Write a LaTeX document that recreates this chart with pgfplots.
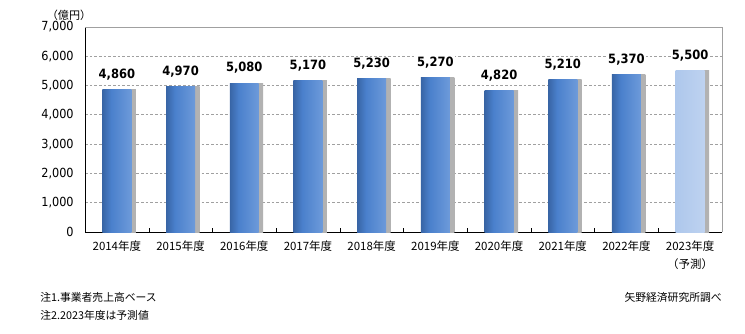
\documentclass[border=0pt]{standalone}
\usepackage{pgfplots}
\pgfplotsset{compat=1.18}
\usepackage{fontspec}
\setmainfont{Noto Sans CJK JP}
\newfontfamily\numfont{DejaVu Sans Condensed}
\definecolor{barA}{HTML}{1A3764}
\definecolor{barB}{HTML}{4A80CC}
\definecolor{barC}{HTML}{86ADE4}
\definecolor{fcA}{HTML}{A6C2EA}
\definecolor{fcB}{HTML}{C6D8F2}
\definecolor{gridc}{HTML}{A0A0A0}
\pgfdeclarehorizontalshading{barshade}{100bp}{color(0bp)=(barA); color(40bp)=(barB); color(100bp)=(barC)}
\pgfdeclarehorizontalshading{fcshade}{100bp}{color(0bp)=(fcA); color(100bp)=(fcB)}
\pgfdeclarehorizontalshading{shadowshade}{100bp}{color(0bp)=(black!30); color(84bp)=(black!30); color(92bp)=(black!14); color(100bp)=(white)}
\pgfplotsset{
  shad/.style={ybar, bar width=0.455, bar shift=0.07, draw=none, shading=shadowshade, forget plot},
  mainbar/.style={ybar, bar width=0.455, bar shift=0, draw=none, shading=barshade,
    nodes near coords={\pgfmathprintnumber[fixed,1000 sep={,}]{\pgfplotspointmeta}},
    nodes near coords style={font=\numfont\bfseries\fontsize{9.6pt}{11pt}\selectfont, anchor=south, fill=white, inner sep=1pt, yshift=6pt}},
}
\begin{document}
\begin{tikzpicture}[x=0.75pt,y=0.75pt]
\useasboundingbox (0,0) rectangle (745,333);
\begin{axis}[
  at={(85*0.75pt,101*0.75pt)}, anchor=south west,
  scale only axis, width=637*0.75pt, height=205*0.75pt,
  xmin=-0.5, xmax=9.5, ymin=0, ymax=7000,
  axis x line*=bottom, axis y line*=left,
  axis line style={-, black},
  xtick={0,...,9},
  xticklabels={2014年度,2015年度,2016年度,2017年度,2018年度,2019年度,2020年度,2021年度,2022年度,{2023年度\\（予測）}},
  xticklabel style={font=\fontsize{8.6pt}{13.5pt}\selectfont, align=center, yshift=-3pt},
  minor xtick={0.5,1.5,...,8.5},
  major x tick style={draw=none},
  minor x tick style={black},
  minor tick length=3pt,
  tick align=inside,
  ytick={0,1000,...,7000},
  major y tick style={draw=none},
  yticklabel style={font=\numfont\fontsize{9.4pt}{11pt}\selectfont, xshift=-5pt},
  /pgf/number format/assume math mode=true,
  yticklabel={\pgfmathprintnumber[fixed,1000 sep={,}]{\tick}},
  ymajorgrids, grid style={gridc, dash pattern=on 2pt off 1.5pt, line width=0.6pt},
  clip=false,
]
\addplot[shad] coordinates {(0,4860)};
\addplot[shad] coordinates {(1,4970)};
\addplot[shad] coordinates {(2,5080)};
\addplot[shad] coordinates {(3,5170)};
\addplot[shad] coordinates {(4,5230)};
\addplot[shad] coordinates {(5,5270)};
\addplot[shad] coordinates {(6,4820)};
\addplot[shad] coordinates {(7,5210)};
\addplot[shad] coordinates {(8,5370)};
\addplot[shad] coordinates {(9,5500)};
\addplot[mainbar] coordinates {(0,4860)};
\addplot[mainbar] coordinates {(1,4970)};
\addplot[mainbar] coordinates {(2,5080)};
\addplot[mainbar] coordinates {(3,5170)};
\addplot[mainbar] coordinates {(4,5230)};
\addplot[mainbar] coordinates {(5,5270)};
\addplot[mainbar] coordinates {(6,4820)};
\addplot[mainbar] coordinates {(7,5210)};
\addplot[mainbar] coordinates {(8,5370)};
\addplot[mainbar, shading=fcshade] coordinates {(9,5500)};
\draw[gridc, line width=0.7pt] (rel axis cs:0,1) -- (rel axis cs:1,1) -- (rel axis cs:1,0);
\end{axis}
\node[font=\fontsize{8.3pt}{10pt}\selectfont] at (69,318) {（億円）};
\node[anchor=west, font=\fontsize{8.1pt}{10pt}\selectfont, inner sep=0pt] at (40,36) {注1.事業者売上高ベース};
\node[anchor=west, font=\fontsize{8.1pt}{10pt}\selectfont, inner sep=0pt] at (40,18) {注2.2023年度は予測値};
\node[anchor=east, font=\fontsize{8.1pt}{10pt}\selectfont, inner sep=0pt] at (722,36) {矢野経済研究所調べ};
\end{tikzpicture}
\end{document}
